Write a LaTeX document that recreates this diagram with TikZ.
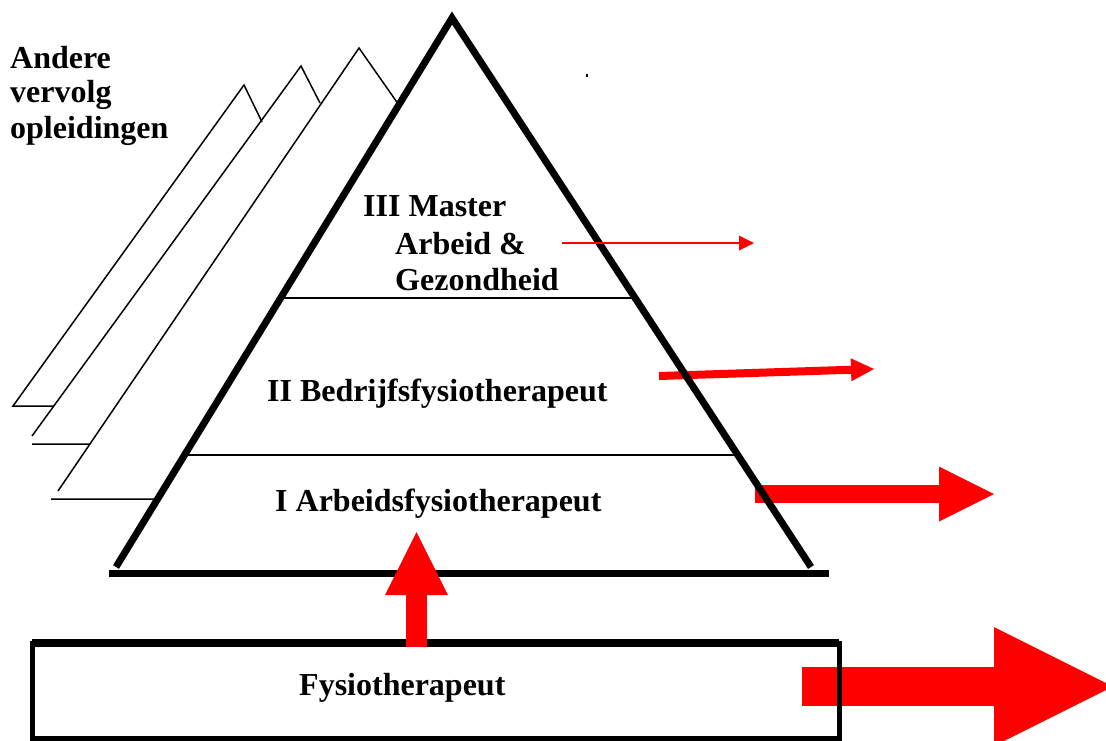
\documentclass[tikz,border=0pt]{standalone}
\usepackage{fontspec}
\setmainfont{Liberation Serif}
\usetikzlibrary{arrows.meta,calc}

\begin{document}
\begin{tikzpicture}[x = {(1pt, 0pt)},
                    y = {(0pt, -1pt)},
                    label/.style = {font=\fontsize{32}{37}\selectfont\bfseries,
                                    inner sep=0pt, anchor=base west},
                    back/.style = {line width=1.5pt},
                    redarrow/.style = {red, line cap=butt}]
  \useasboundingbox (0, 0) rectangle (1106, 740);

  % corners of the pyramid
  \coordinate (apex)  at (452, 18);
  \coordinate (baseL) at (116, 567);
  \coordinate (baseR) at (811, 567);

  % stacked triangles behind
  \coordinate (t1top) at (244, 85);
  \coordinate (t2top) at (301, 66);
  \coordinate (t3top) at (359, 48);
  \coordinate (t2bot) at (32, 436);
  \coordinate (t3bot) at (58, 491);
  \draw[back] (262, 122) -- (t1top) -- (13, 406) -- (intersection of 13,406--60,406 and t2top--t2bot); % t1
  \draw[back] (320, 103) -- (t2top) -- (t2bot);                                                    % t2
  \draw[back] (32, 444) -- (intersection of 32,444--80,444 and t3top--t3bot);
  \draw[back] (intersection of t3top--394,98 and apex--baseL) -- (t3top) -- (t3bot);              % t3
  \draw[back] (51, 499) -- (intersection of 51,499--90,499 and apex--baseL);

  % red arrows to the right
  \coordinate (a2s) at (659, 376); \coordinate (a2e) at (874, 369);
  \coordinate (a3s) at (755, 494); \coordinate (a3e) at (994, 494);
  \coordinate (a4s) at (802, 686.5); \coordinate (a4e) at (1113, 686.5);
  \draw[redarrow, line width=8pt, -{Triangle[length=23pt, width=23pt, line width=0pt]}] (a2s) -- (a2e);
  \draw[redarrow, line width=18pt, -{Triangle[length=55pt, width=55pt, line width=0pt]}] (a3s) -- (a3e);
  \draw[redarrow, line width=39pt, -{Triangle[length=119pt, width=119pt, line width=0pt]}] (a4s) -- (a4e);

  % draw pyramid
  \draw[line width=7pt, line join=miter] (baseL) -- (apex) -- (baseR);
  \coordinate (bl1) at (109, 573.5); \coordinate (bl2) at (829, 573.5);
  \draw[line width=7pt] (bl1) -- (bl2);                                                             % base
  \draw[line width=2pt] ($(apex)!{(298-18)/549}!(baseL)$) -- ($(apex)!{(298-18)/549}!(baseR)$);     % III / II
  \draw[line width=2pt] ($(apex)!{(455-18)/549}!(baseL)$) -- ($(apex)!{(455-18)/549}!(baseR)$);     % II / I

  % thin red arrow
  \coordinate (a1s) at (562, 243); \coordinate (a1e) at (754, 243);
  \draw[redarrow, line width=2.5pt, -{Triangle[length=15pt, width=15pt, line width=0pt]}] (a1s) -- (a1e);

  % box at the bottom
  \coordinate (boxNW) at (32, 643); \coordinate (boxSE) at (839, 738);
  \draw[line width=5pt] (boxNW) rectangle (boxSE);
  \draw[line width=8pt] (boxNW) -- (boxNW -| boxSE);                                                % top

  % red arrow up
  \coordinate (ups) at (416.5, 647); \coordinate (upe) at (416.5, 532);
  \draw[redarrow, line width=21pt, -{Triangle[length=63pt, width=63pt, line width=0pt]}] (ups) -- (upe);

  % texts
  \node[label] (andere)      at (10, 68)   {Andere};
  \node[label] (vervolg)     at (10, 102)  {vervolg};
  \node[label] (opleidingen) at (10, 138)  {opleidingen};
  \node[label] (master)      at (363, 216) {III Master};
  \node[label] (arbeidgez)   at (395, 254) {Arbeid \&};
  \node[label] (gezondheid)  at (395, 290) {Gezondheid};
  \node[label] (bedrijf)     at (267, 401) {II Bedrijfsfysiotherapeut};
  \node[label] (arbeid)      at (275, 511) {I Arbeidsfysiotherapeut};
  \node[label] (fysio)       at (299, 695) {Fysiotherapeut};
  \fill (585.5, 74) rectangle (588, 76.5);                                                          % dot
\end{tikzpicture}
\end{document}
